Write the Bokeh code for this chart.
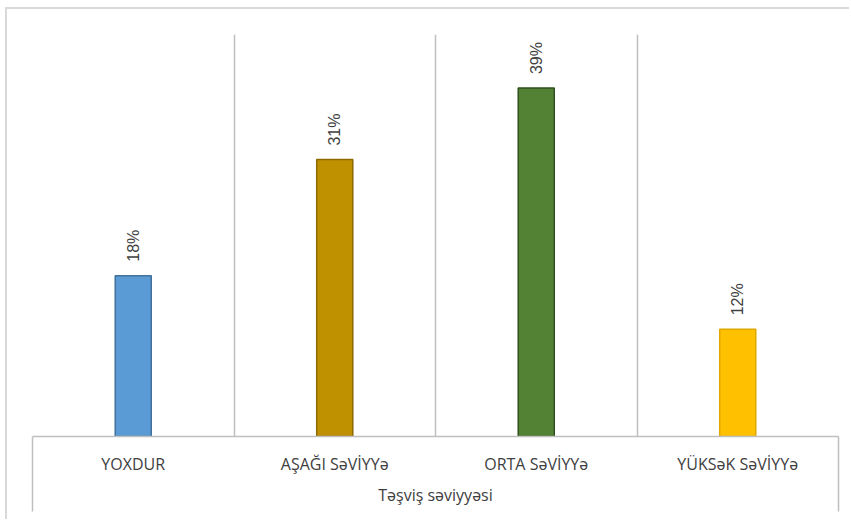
import math
from bokeh.plotting import figure
from bokeh.models import ColumnDataSource, FixedTicker, Range1d
from bokeh.core.properties import value
from bokeh.embed import file_html
from bokeh.resources import INLINE

categories = ["YOXDUR", "AŞAĞI SəVİYYə", "ORTA SəVİYYə", "YÜKSəK SəVİYYə"]
percent = [18, 31, 39, 12]
value_labels = ["18%", "31%", "39%", "12%"]
fill_colors = ["#5B9BD5", "#BF9000", "#548235", "#FFC000"]
line_colors = ["#41719C", "#8C6A00", "#2F4F1E", "#E0A800"]
axis_title = "Təşviş səviyyəsi"

xpos = [i + 0.5 for i in range(len(categories))]
src = ColumnDataSource(dict(x=xpos, top=percent, lab=value_labels,
                            fill=fill_colors, line=line_colors))

p = figure(width=844, height=512, output_backend="svg", toolbar_location=None,
           x_range=Range1d(0, len(categories)), y_range=Range1d(0, 45),
           y_axis_location=None, min_border_left=25, min_border_top=25,
           min_border_right=13, min_border_bottom=85,
           margin=(7, 0, 0, 5),
           styles={"border-top": "2px solid #d9d9d9", "border-left": "2px solid #d9d9d9"})
p.outline_line_color = None
p.background_fill_color = "white"
p.border_fill_color = "white"

p.vbar(x="x", top="top", width=0.179, bottom=0, source=src,
       fill_color="fill", line_color="line", line_width=1.5)

p.text(x="x", y="top", text="lab", source=src, angle=math.pi / 2,
       text_align="left", text_baseline="middle", y_offset=-14,
       text_font=value("Liberation Sans"), text_font_size="16px",
       text_color="#404040")

p.xgrid.ticker = FixedTicker(ticks=[0, 1, 2, 3, 4])
p.xgrid.grid_line_color = "#bfbfbf"
p.xgrid.grid_line_width = 1.5
p.ygrid.visible = False

ax = p.xaxis[0]
ax.ticker = FixedTicker(ticks=xpos, minor_ticks=[0, len(categories)])
ax.major_label_overrides = {x: c for x, c in zip(xpos, categories)}
ax.major_tick_line_color = None
ax.major_tick_in = 0
ax.major_tick_out = 0
ax.minor_tick_in = 0
ax.minor_tick_out = 75
ax.minor_tick_line_color = "#bfbfbf"
ax.minor_tick_line_width = 1.5
ax.axis_line_color = "#bfbfbf"
ax.axis_line_width = 1.5
ax.major_label_standoff = -59
ax.major_label_text_font = "Open Sans"
ax.major_label_text_font_size = "16px"
ax.major_label_text_color = "#404040"
ax.axis_label = axis_title
ax.axis_label_standoff = 6
ax.axis_label_text_font = "Open Sans"
ax.axis_label_text_font_size = "16px"
ax.axis_label_text_font_style = "normal"
ax.axis_label_text_color = "#404040"

open("out.html", "w").write(file_html(p, INLINE))
